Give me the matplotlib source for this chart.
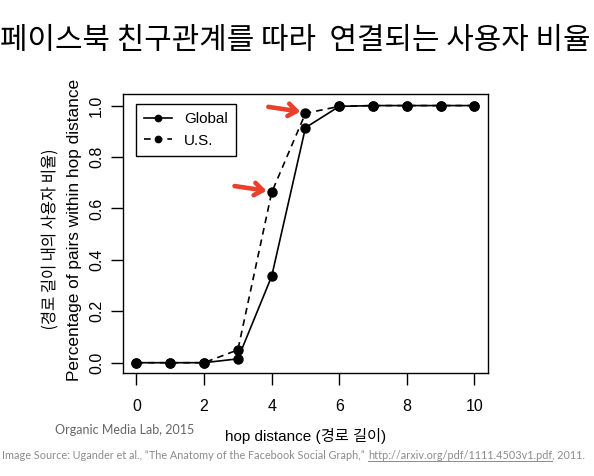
import matplotlib
matplotlib.use("Agg")
import matplotlib.pyplot as plt
from matplotlib.lines import Line2D
from matplotlib.textpath import TextPath
from matplotlib.patches import PathPatch
from matplotlib.font_manager import FontProperties
from matplotlib.transforms import Affine2D, IdentityTransform

# hop distance data
hops = [0, 1, 2, 3, 4, 5, 6, 7, 8, 9, 10]
global_frac = [0.0, 0.0, 0.0, 0.015, 0.336, 0.914, 0.997, 1.0, 1.0, 1.0, 1.0]
us_frac = [0.0, 0.0, 0.0, 0.05, 0.662, 0.970, 0.997, 1.0, 1.0, 1.0, 1.0]
xticks = [0, 2, 4, 6, 8, 10]
yticks = [0.0, 0.2, 0.4, 0.6, 0.8, 1.0]
arrow_hops = [4, 5]

title = "페이스북 친구관계를 따라  연결되는 사용자 비율"
ylabel_en = "Percentage of pairs within hop distance"
ylabel_ko = "(경로 길이 내의 사용자 비율)"
xlabel = "hop distance (경로 길이)"
credit = "Organic Media Lab, 2015"
src_pre = "Image Source: Ugander et al., \u201cThe Anatomy of the Facebook Social Graph,\u201d "
src_url = "http://arxiv.org/pdf/1111.4503v1.pdf"
src_post = ", 2011."

FAM = ["Liberation Sans", "Noto Sans CJK KR"]
plt.rcParams["font.family"] = FAM

fig = plt.figure(figsize=(5.94, 4.76), dpi=100)
ax = fig.add_axes([0.207, 0.2164, 0.6145, 0.5861])

ax.plot(hops, global_frac, "-", color="black", lw=1.2, marker="o", ms=6.5, label="Global")
ax.plot(hops, us_frac, "--", color="black", lw=1.2, marker="o", ms=6.5, label="U.S.",
        dashes=(4, 3))

ax.set_xlim(-0.4, 10.4)
ax.set_ylim(-0.04, 1.045)
ax.set_xticks(xticks)
ax.set_xticklabels([str(t) for t in xticks])
ax.set_yticks(yticks)
ax.set_yticklabels(["%.1f" % t for t in yticks], rotation=90, va="center")
ax.tick_params(direction="out", length=8.5, width=1, labelsize=11.5)
ax.tick_params(axis="x", pad=10)
ax.tick_params(axis="y", pad=5)
for s in ax.spines.values():
    s.set_linewidth(1)

leg = ax.legend(loc="upper left", fancybox=False, framealpha=1, edgecolor="black",
                fontsize=11, handlelength=1.8, borderpad=0.55, markerscale=0.7,
                bbox_to_anchor=(0.035, 0.965), borderaxespad=0)
leg.get_frame().set_linewidth(1)

# red hand-drawn style arrows
for h in arrow_hops:
    yv = us_frac[h]
    ax.annotate("", xy=(h - 0.07, yv + 0.005), xytext=(-27, 4), textcoords="offset points",
                arrowprops=dict(arrowstyle="->,head_length=0.6,head_width=0.45",
                                color="#e8402a", lw=3.3))

ax.set_xlabel(xlabel, fontsize=11, labelpad=10)

fig.text(0.497, 0.915, title, ha="center", va="center", fontsize=21.5, family="Noto Sans CJK KR")
fig.text(0.126, 0.517, ylabel_en, rotation=90, ha="center", va="center", fontsize=12.4)

# korean y label: drawn condensed, like in the original slide
tp = TextPath((0, 0), ylabel_ko, size=16.5, prop=FontProperties(family="Noto Sans CJK KR"))
ext = tp.get_extents()
sx = 178.0 / ext.width
tr = (Affine2D().translate(-(ext.x0 + ext.width / 2), -(ext.y0 + ext.height / 2))
      .scale(sx, 1.0).rotate_deg(90).translate(49, 476 - 240))
fig.add_artist(PathPatch(tp, transform=tr + IdentityTransform(), color="black", lw=0))

fig.text(0.21, 0.096, credit, ha="center", va="center", fontsize=9, color="#666666", family="Lato")

# source line with underlined url
grey = "#8c8c8c"
fig.canvas.draw()
r = fig.canvas.get_renderer()
x0 = 0.004
yb = 0.036
fs = 7.8
t1 = fig.text(x0, yb, src_pre, fontsize=fs, color=grey, family="Lato", va="baseline")
w1 = t1.get_window_extent(r).width / fig.bbox.width
t2 = fig.text(x0 + w1, yb, src_url, fontsize=fs, color=grey, family="Lato", va="baseline")
w2 = t2.get_window_extent(r).width / fig.bbox.width
fig.add_artist(Line2D([x0 + w1, x0 + w1 + w2], [yb - 0.005, yb - 0.005], color=grey, lw=0.7,
                      transform=fig.transFigure))
fig.text(x0 + w1 + w2, yb, src_post, fontsize=fs, color=grey, family="Lato", va="baseline")

fig.savefig("out.png", dpi=100)
